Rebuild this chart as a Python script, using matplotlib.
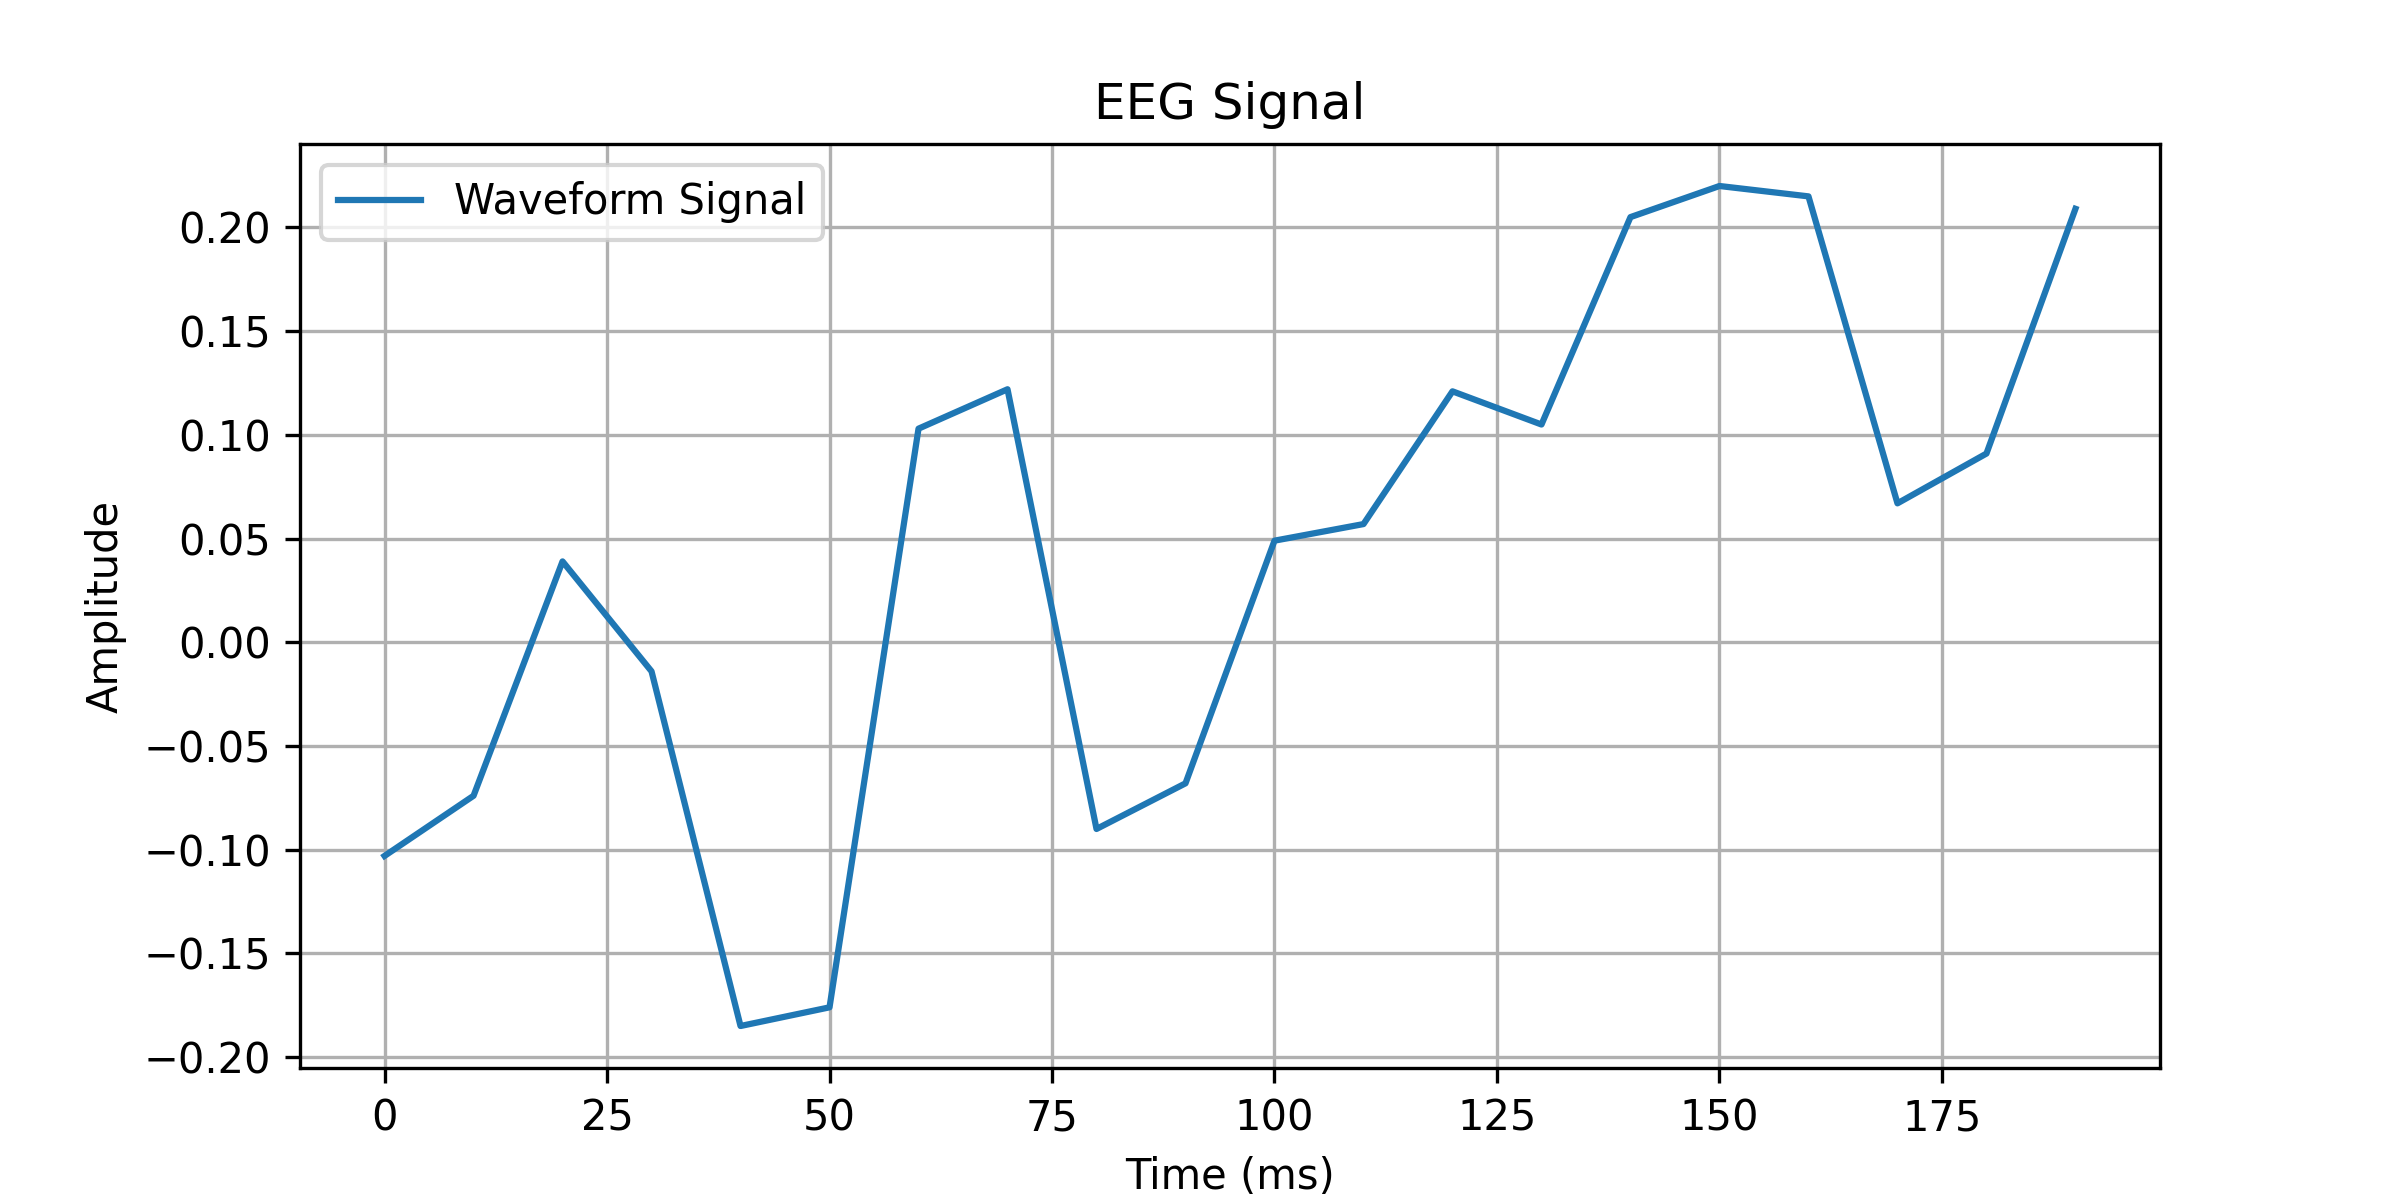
"""
plot.py

Recreate the EEG signal line chart.
"""

import matplotlib.pyplot as plt

time_ms = [0, 10, 20, 30, 40, 50, 60, 70, 80, 90,
           100, 110, 120, 130, 140, 150, 160, 170, 180, 190]
amplitude = [-0.103, -0.074, 0.039, -0.014, -0.185, -0.176, 0.103, 0.122, -0.090, -0.068,
             0.049, 0.057, 0.121, 0.105, 0.205, 0.220, 0.215, 0.067, 0.091, 0.209]


def main():

    plt.figure(figsize=(8, 4))

    plt.plot(time_ms, amplitude, label="Waveform Signal")

    plt.title("EEG Signal")
    plt.xlabel("Time (ms)")
    plt.ylabel("Amplitude")
    plt.legend(loc="upper left")

    plt.grid(True)

    plt.savefig("out.png", dpi=300)

    plt.close()


if __name__ == "__main__":
    main()
